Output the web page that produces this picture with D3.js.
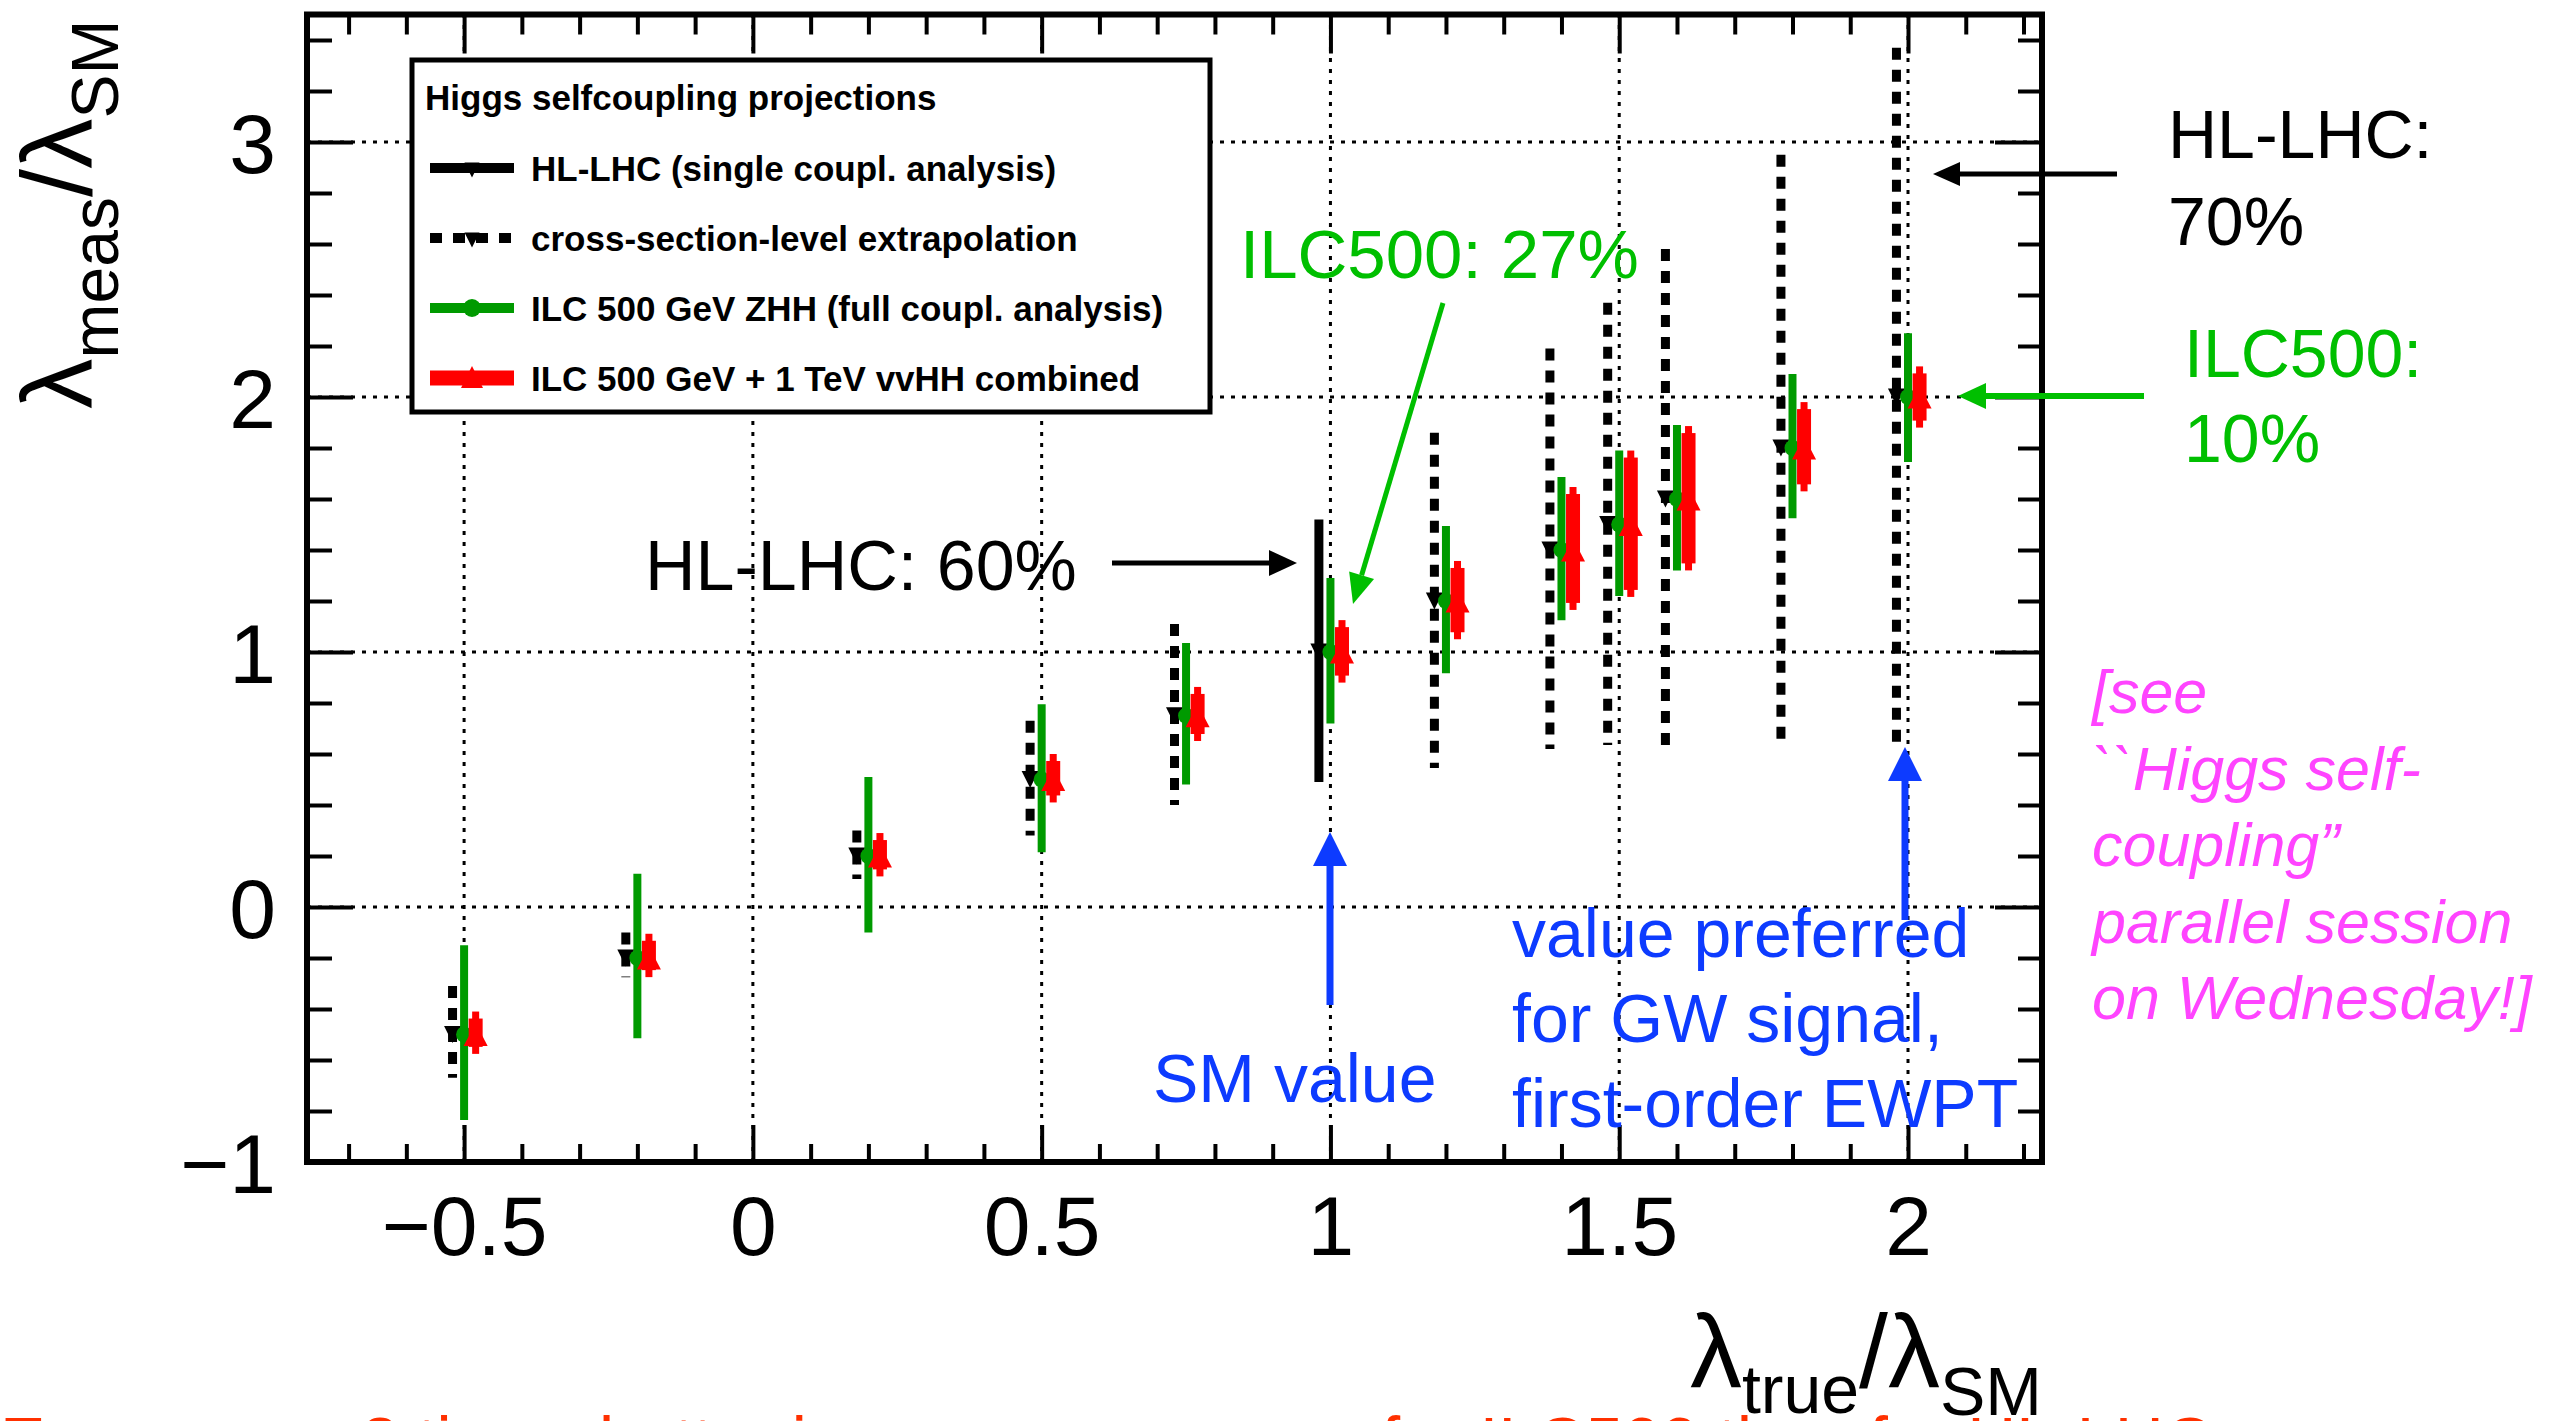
<!DOCTYPE html>
<html>
<head>
<meta charset="utf-8">
<script src="https://cdn.jsdelivr.net/npm/d3@7"></script>
<style>
  html, body { margin: 0; padding: 0; background: #fff; }
  svg { display: block; }
  text { font-family: "Liberation Sans", Arial, Helvetica, sans-serif; }
</style>
</head>
<body>
<svg id="chart" width="2550" height="1421"></svg>
<script>
// ---------------- data ----------------
const lambdaTrue = [-0.5, -0.2, 0.2, 0.5, 0.75, 1.0, 1.2, 1.4, 1.5, 1.6, 1.8, 2.0];

// HL-LHC (black): index 5 is the single-coupling analysis (solid), others cross-section-level extrapolation (dashed)
const hlMeas = [-0.5, -0.2, 0.2, 0.5, 0.75, 1.0, 1.2, 1.4, 1.5, 1.6, 1.8, 2.0];
const hlHi   = [-0.31, -0.10, 0.30, 0.73, 1.11, 1.52, 1.86, 2.19, 2.37, 2.58, 2.95, 3.37];
const hlLo   = [-0.67, -0.275, 0.11, 0.28, 0.40, 0.49, 0.545, 0.62, 0.635, 0.63, 0.66, 0.635];
const hlKind = ["xsec", "xsec", "xsec", "xsec", "xsec", "single", "xsec", "xsec", "xsec", "xsec", "xsec", "xsec"];

// ILC 500 GeV ZHH (green)
const ilcMeas = [-0.5, -0.2, 0.2, 0.5, 0.75, 1.0, 1.2, 1.4, 1.5, 1.6, 1.8, 2.0];
const ilcHi   = [-0.15, 0.13, 0.51, 0.795, 1.035, 1.29, 1.494, 1.686, 1.79, 1.89, 2.09, 2.25];
const ilcLo   = [-0.835, -0.515, -0.10, 0.215, 0.48, 0.72, 0.917, 1.125, 1.22, 1.32, 1.525, 1.745];

// ILC 500 GeV + 1 TeV vvHH combined (red)
const combMeas = [-0.5, -0.2, 0.2, 0.5, 0.75, 1.0, 1.2, 1.4, 1.5, 1.6, 1.8, 2.0];
const combHi   = [-0.41, -0.105, 0.29, 0.60, 0.863, 1.125, 1.357, 1.647, 1.79, 1.886, 1.98, 2.12];
const combLo   = [-0.576, -0.275, 0.12, 0.41, 0.651, 0.88, 1.05, 1.165, 1.216, 1.32, 1.63, 1.88];

const xTickValues = [-0.5, 0, 0.5, 1, 1.5, 2];
const xTickLabels = ["\u22120.5", "0", "0.5", "1", "1.5", "2"];
const yTickValues = [-1, 0, 1, 2, 3];
const yTickLabels = ["\u22121", "0", "1", "2", "3"];

const legendTitle = "Higgs selfcoupling projections";
const legendLabels = [
  "HL-LHC (single coupl. analysis)",
  "cross-section-level extrapolation",
  "ILC 500 GeV ZHH (full coupl. analysis)",
  "ILC 500 GeV + 1 TeV vvHH combined"
];

// ---------------- layout ----------------
const svg = d3.select("#chart");
const F = { left: 307, right: 2042, top: 14.5, bottom: 1162 };
const x = d3.scaleLinear().domain([-0.772, 2.232]).range([F.left, F.right]);
const y = d3.scaleLinear().domain([-1, 3.5]).range([F.bottom, F.top]);

const COL = {
  black: "#000", green: "#009a00", red: "#ff0000",
  annGreen: "#00bf00", blue: "#0d3bff", magenta: "#ff44ff", bottomRed: "#ff3000"
};

svg.append("rect").attr("width", 2550).attr("height", 1421).attr("fill", "#fff");

// ---------------- grid ----------------
const grid = svg.append("g").attr("stroke", "#000").attr("stroke-width", 3).attr("stroke-dasharray", "4,7");
grid.selectAll("line.gx").data(xTickValues).join("line")
  .attr("x1", d => x(d)).attr("x2", d => x(d)).attr("y1", F.bottom).attr("y2", F.top);
grid.selectAll("line.gy").data(yTickValues.filter(v => v > -1)).join("line")
  .attr("x1", F.left).attr("x2", F.right).attr("y1", d => y(d)).attr("y2", d => y(d));

// ---------------- legend ----------------
const lg = svg.append("g");
lg.append("rect").attr("x", 412).attr("y", 60).attr("width", 798).attr("height", 352)
  .attr("fill", "#fff").attr("stroke", "#000").attr("stroke-width", 5);
lg.append("text").attr("x", 425).attr("y", 110).attr("font-size", 35).attr("font-weight", "bold").text(legendTitle);
const legBase = [181, 251, 321, 391];
legendLabels.forEach((t, i) => {
  lg.append("text").attr("x", 531).attr("y", legBase[i]).attr("font-size", 35).attr("font-weight", "bold").text(t);
});
function downTri(cx, cy, w, h) { return `M${cx - w/2},${cy - h/2}L${cx + w/2},${cy - h/2}L${cx},${cy + h/2}Z`; }
function upTri(cx, cy, w, h) { return `M${cx - w/2},${cy + h/2}L${cx + w/2},${cy + h/2}L${cx},${cy - h/2}Z`; }
{
  const cy0 = legBase[0] - 13, cy1 = legBase[1] - 13, cy2 = legBase[2] - 13, cy3 = legBase[3] - 13;
  lg.append("line").attr("x1", 430).attr("x2", 514).attr("y1", cy0).attr("y2", cy0).attr("stroke", "#000").attr("stroke-width", 10);
  lg.append("path").attr("d", downTri(472, cy0 + 2, 15, 15)).attr("fill", "#000");
  lg.append("line").attr("x1", 430).attr("x2", 514).attr("y1", cy1).attr("y2", cy1).attr("stroke", "#000").attr("stroke-width", 10).attr("stroke-dasharray", "12,11");
  lg.append("path").attr("d", downTri(472, cy1 + 2, 15, 15)).attr("fill", "#000");
  lg.append("line").attr("x1", 430).attr("x2", 514).attr("y1", cy2).attr("y2", cy2).attr("stroke", COL.green).attr("stroke-width", 10);
  lg.append("circle").attr("cx", 472).attr("cy", cy2).attr("r", 9).attr("fill", COL.green);
  lg.append("line").attr("x1", 430).attr("x2", 514).attr("y1", cy3).attr("y2", cy3).attr("stroke", COL.red).attr("stroke-width", 15);
  lg.append("path").attr("d", upTri(472, cy3 - 1, 22, 22)).attr("fill", COL.red);
}

// ---------------- data marks ----------------
const pts = svg.append("g");
const dx = 0.02; // horizontal offset of the series around lambda_true
lambdaTrue.forEach((lt, i) => {
  // HL-LHC
  const xb = x(lt - dx);
  pts.append("line").attr("x1", xb).attr("x2", xb).attr("y1", y(hlHi[i])).attr("y2", y(hlLo[i]))
    .attr("stroke", "#000").attr("stroke-width", 9)
    .attr("stroke-dasharray", hlKind[i] === "single" ? null : "12,10");
  pts.append("path").attr("d", downTri(xb, y(hlMeas[i]), 17, 17)).attr("fill", "#000");
  // ILC 500 ZHH
  const xg = x(lt);
  pts.append("line").attr("x1", xg).attr("x2", xg).attr("y1", y(ilcHi[i])).attr("y2", y(ilcLo[i]))
    .attr("stroke", COL.green).attr("stroke-width", 8);
  pts.append("circle").attr("cx", xg).attr("cy", y(ilcMeas[i])).attr("r", 8).attr("fill", COL.green);
  // combined
  const xr = x(lt + dx);
  const yt = y(combHi[i]), yb = y(combLo[i]);
  pts.append("rect").attr("x", xr - 3.5).attr("width", 7).attr("y", yt).attr("height", yb - yt).attr("fill", COL.red);
  if (yb - yt > 16) {
    pts.append("rect").attr("x", xr - 7).attr("width", 14).attr("y", yt + 7).attr("height", yb - yt - 14).attr("fill", COL.red);
  }
  pts.append("path").attr("d", upTri(xr, y(combMeas[i]), 24, 23)).attr("fill", COL.red);
});

// ---------------- axes (ticks inside, ROOT style) ----------------
const minorX = d3.range(-7, 23).map(k => k / 10).filter(v => Math.abs(v * 2 - Math.round(v * 2)) > 1e-6);
const minorY = d3.range(-5, 18).map(k => k / 5).filter(v => Math.abs(v - Math.round(v)) > 1e-6);

function styleAxis(g) {
  g.select(".domain").remove();
  g.selectAll(".tick line").attr("stroke", "#000").attr("stroke-width", 4);
}
const tickFont = 84;
// bottom
svg.append("g").attr("transform", `translate(0,${F.bottom})`)
  .call(d3.axisBottom(x).tickValues(minorX).tickSize(-18).tickFormat("")).call(styleAxis);
svg.append("g").attr("transform", `translate(0,${F.bottom})`)
  .call(d3.axisBottom(x).tickValues(xTickValues).tickSize(-37).tickPadding(33)
    .tickFormat((d, i) => xTickLabels[i]))
  .call(styleAxis)
  .call(g => g.selectAll(".tick text").attr("font-size", tickFont).attr("fill", "#000")
    .attr("font-family", "Liberation Sans, Arial, sans-serif"));
// top
svg.append("g").attr("transform", `translate(0,${F.top})`)
  .call(d3.axisTop(x).tickValues(minorX).tickSize(-20).tickFormat("")).call(styleAxis);
svg.append("g").attr("transform", `translate(0,${F.top})`)
  .call(d3.axisTop(x).tickValues(xTickValues).tickSize(-39).tickFormat("")).call(styleAxis);
// left
svg.append("g").attr("transform", `translate(${F.left},0)`)
  .call(d3.axisLeft(y).tickValues(minorY).tickSize(-25).tickFormat("")).call(styleAxis);
svg.append("g").attr("transform", `translate(${F.left},0)`)
  .call(d3.axisLeft(y).tickValues(yTickValues).tickSize(-46).tickPadding(31)
    .tickFormat((d, i) => yTickLabels[i]))
  .call(styleAxis)
  .call(g => g.selectAll(".tick text").attr("font-size", tickFont).attr("fill", "#000").attr("dy", "0.36em")
    .attr("font-family", "Liberation Sans, Arial, sans-serif"));
// right
svg.append("g").attr("transform", `translate(${F.right},0)`)
  .call(d3.axisRight(y).tickValues(minorY).tickSize(-24).tickFormat("")).call(styleAxis);
svg.append("g").attr("transform", `translate(${F.right},0)`)
  .call(d3.axisRight(y).tickValues(yTickValues).tickSize(-47).tickFormat("")).call(styleAxis);

// frame
svg.append("rect").attr("x", F.left).attr("y", F.top).attr("width", F.right - F.left).attr("height", F.bottom - F.top)
  .attr("fill", "none").attr("stroke", "#000").attr("stroke-width", 6);

// ---------------- axis titles ----------------
const xt = svg.append("text").attr("x", F.right).attr("y", 1387).attr("text-anchor", "end").attr("font-size", 104).attr("fill", "#000");
xt.append("tspan").text("\u03bb");
xt.append("tspan").attr("font-size", 68).attr("dy", 26).text("true");
xt.append("tspan").attr("dy", -26).text("/\u03bb");
xt.append("tspan").attr("font-size", 68).attr("dy", 28).text("SM");

const yt = svg.append("text").attr("transform", "translate(92,409) rotate(-90)").attr("font-size", 101).attr("fill", "#000");
yt.append("tspan").text("\u03bb");
yt.append("tspan").attr("font-size", 66).attr("dy", 26).text("meas");
yt.append("tspan").attr("dy", -26).text("/\u03bb");
yt.append("tspan").attr("font-size", 66).attr("dy", 26).text("SM");

// ---------------- annotations ----------------
const ann = svg.append("g");
function arrow(x1, y1, x2, y2, color, lw, headLen, headW) {
  const ang = Math.atan2(y2 - y1, x2 - x1);
  const bx = x2 - headLen * Math.cos(ang), by = y2 - headLen * Math.sin(ang);
  ann.append("line").attr("x1", x1).attr("y1", y1).attr("x2", bx).attr("y2", by)
    .attr("stroke", color).attr("stroke-width", lw);
  const px = -Math.sin(ang) * headW / 2, py = Math.cos(ang) * headW / 2;
  ann.append("path").attr("d", `M${x2},${y2}L${bx + px},${by + py}L${bx - px},${by - py}Z`).attr("fill", color);
}
function label(xp, yp, txt, color, size, italic) {
  ann.append("text").attr("x", xp).attr("y", yp).attr("font-size", size).attr("fill", color)
    .attr("font-style", italic ? "italic" : null).text(txt);
}
// ILC500: 27%
label(1240, 278, "ILC500: 27%", COL.annGreen, 69);
arrow(1443, 303, 1353, 604, COL.annGreen, 5, 30, 26);
// HL-LHC: 60%
label(645, 590, "HL-LHC: 60%", "#000", 70);
arrow(1112, 563, 1297, 563, "#000", 5, 28, 26);
// HL-LHC: 70%
label(2168, 158, "HL-LHC:", "#000", 68);
label(2168, 245, "70%", "#000", 68);
arrow(2117, 174, 1933, 174, "#000", 5, 27, 24);
// ILC500: 10%
label(2184, 377, "ILC500:", COL.annGreen, 68);
label(2184, 462, "10%", COL.annGreen, 68);
arrow(2144, 396, 1958, 396, COL.annGreen, 6, 28, 26);
// SM value
label(1153, 1102, "SM value", COL.blue, 68);
arrow(1330, 1005, 1330, 832, COL.blue, 7, 34, 34);
// GW signal
label(1512, 957, "value preferred", COL.blue, 68);
label(1512, 1042, "for GW signal,", COL.blue, 68);
label(1512, 1127, "first-order EWPT", COL.blue, 68);
arrow(1905, 920, 1905, 747, COL.blue, 7, 34, 34);
// session note
const noteLines = ["[see", "``Higgs self-", "coupling\u201d", "parallel session", "on Wednesday!]"];
const noteBase = [713, 790, 866, 943, 1019];
noteLines.forEach((t, i) => label(2092, noteBase[i], t, COL.magenta, 61, true));
// cut-off conclusion line at the bottom
label(0, 1465, "Errors are ~2 times better in numerous cases for ILC500 than for HL-LHC", COL.bottomRed, 68);
</script>
</body>
</html>
